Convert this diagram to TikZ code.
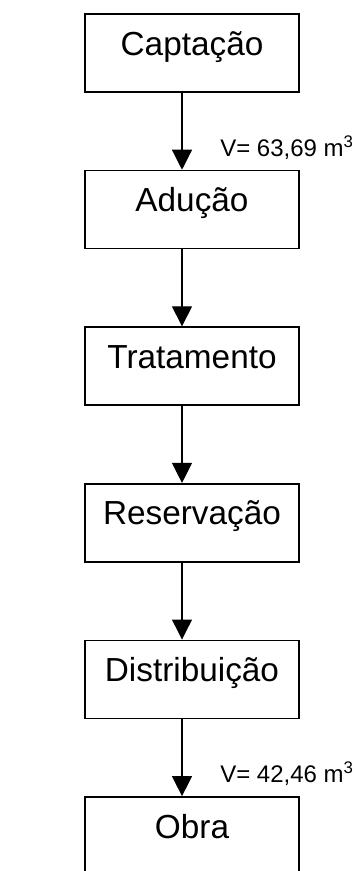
\documentclass[tikz,border=0pt]{standalone}
\usepackage{fontspec}
\setmainfont{Liberation Sans}
\usetikzlibrary{arrows.meta}

\begin{document}
\begin{tikzpicture}[x=0.75pt,y=0.75pt,yscale=-1,xscale=1,
  etapa/.style={draw,line width=1.3pt,inner sep=0pt,anchor=base,
    text width=160.5pt,align=center,text height=30.75pt,text depth=27.75pt,
    font=\fontsize{25}{29}\selectfont},
  fluxo/.style={line width=0.9pt,-{Triangle[length=15pt,width=15pt]}},
  volume/.style={anchor=base west,inner sep=0pt,font=\fontsize{18}{21}\selectfont}]
\useasboundingbox (0,0) rectangle (357,871);

%Shape: Rectangle [id:captacao]
\node[etapa] (capt) at (192,55) {Captação};
%Shape: Rectangle [id:aducao]
\node[etapa] (adu) at (192,211.6) {Adução};
%Shape: Rectangle [id:tratamento]
\node[etapa] (trat) at (192,368.2) {Tratamento};
%Shape: Rectangle [id:reservacao]
\node[etapa] (res) at (192,524.8) {Reservação};
%Shape: Rectangle [id:distribuicao]
\node[etapa] (dist) at (192,681.4) {Distribuição};
%Shape: Rectangle [id:obra]
\node[etapa] (obra) at (192,838) {Obra};

%Straight Lines
\draw[fluxo] ([xshift=-7.5pt]capt.south) -- ([xshift=-7.5pt]adu.north);
\draw[fluxo] ([xshift=-7.5pt]adu.south) -- ([xshift=-7.5pt]trat.north);
\draw[fluxo] ([xshift=-7.5pt]trat.south) -- ([xshift=-7.5pt]res.north);
\draw[fluxo] ([xshift=-7.5pt]res.south) -- ([xshift=-7.5pt]dist.north);
\draw[fluxo] ([xshift=-7.5pt]dist.south) -- ([xshift=-7.5pt]obra.north);

% Text Node
\node[volume] (vol1) at (220,156) {V= 63,69 m\textsuperscript{3}};
% Text Node
\node[volume] (vol2) at (220,782) {V= 42,46 m\textsuperscript{3}};
\end{tikzpicture}
\end{document}
